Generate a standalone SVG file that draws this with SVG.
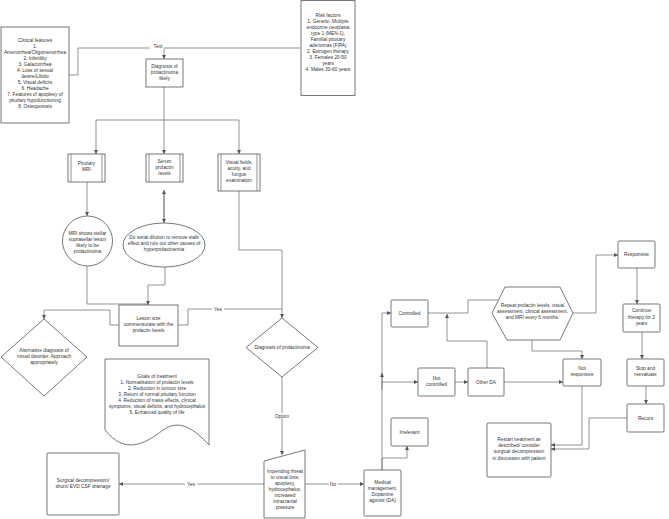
<svg xmlns="http://www.w3.org/2000/svg" width="669" height="519" viewBox="0 0 669 519">
<style>
.b{fill:#fff;stroke:#555;stroke-width:0.8}
.c{fill:none;stroke:#666;stroke-width:0.7}
text{font-family:"Liberation Sans",Arial,sans-serif;font-size:4.8px;fill:#333;text-anchor:middle}
</style>
<defs>
<marker id="a" markerWidth="5" markerHeight="5" refX="4" refY="2" orient="auto" markerUnits="userSpaceOnUse"><path d="M0,0 L4,2 L0,4 Z" fill="#555"/></marker>
</defs>
<rect width="669" height="519" fill="#fff"/>
<g id="connectors">
<path class="c" d="M69,75 H78 V48 H300"/>
<path class="c" d="M164,48 V59" marker-end="url(#a)"/>
<path class="c" d="M164,87 V154" marker-end="url(#a)"/>
<path class="c" d="M164,120 H96 V154" marker-end="url(#a)"/>
<path class="c" d="M164,120 H239 V154" marker-end="url(#a)"/>
<path class="c" d="M87,182 V216" marker-end="url(#a)"/>
<path class="c" d="M164,222 V190" marker-end="url(#a)"/>
<path class="c" d="M164,192 V223" marker-end="url(#a)"/>
<path class="c" d="M87,266 V304 H148"/>
<path class="c" d="M165,267 V285 H148 V305" marker-end="url(#a)"/>
<path class="c" d="M119,325 H110 V310 H44 V319" marker-end="url(#a)"/>
<path class="c" d="M178,325 H188 V309 H282"/>
<path class="c" d="M239,191 V250 H282 V318" marker-end="url(#a)"/>
<path class="c" d="M282,377 V455" marker-end="url(#a)"/>
<path class="c" d="M264,484 H119" marker-end="url(#a)"/>
<path class="c" d="M305,484 H364" marker-end="url(#a)"/>
<path class="c" d="M382,470 V458 H407 V446" marker-end="url(#a)"/>
<path class="c" d="M382,470 V313 H391" marker-end="url(#a)"/>
<path class="c" d="M382,390 V373" marker-end="url(#a)"/>
<path class="c" d="M382,382 H418" marker-end="url(#a)"/>
<path class="c" d="M455,382 H468" marker-end="url(#a)"/>
<path class="c" d="M487,368 V341 H447 V314" marker-end="url(#a)"/>
<path class="c" d="M428,313 H468 V300 H498"/>
<path class="c" d="M573,313 H596 V255 H618" marker-end="url(#a)"/>
<path class="c" d="M532,340 V351 H582 V359" marker-end="url(#a)"/>
<path class="c" d="M504,382 H563" marker-end="url(#a)"/>
<path class="c" d="M637,268 V304" marker-end="url(#a)"/>
<path class="c" d="M642,332 V359" marker-end="url(#a)"/>
<path class="c" d="M646,386 V404" marker-end="url(#a)"/>
<path class="c" d="M582,386 V445 H551" marker-end="url(#a)"/>
<path class="c" d="M627,418 H589 V449 H551" marker-end="url(#a)"/>
<rect x="150" y="44" width="14" height="5" fill="#fff"/>
<text x="158" y="47.5">Text</text>
<rect x="212" y="306" width="12" height="5" fill="#fff"/>
<text x="218" y="310.5">Yes</text>
<rect x="274" y="413" width="16" height="5" fill="#fff"/>
<text x="282" y="417.5">Option</text>
<rect x="185" y="481" width="12" height="5" fill="#fff"/>
<text x="191" y="485.5">Yes</text>
<rect x="329" y="481" width="9" height="5" fill="#fff"/>
<text x="333" y="485.5">No</text>
</g>
<g id="clinical">
<rect class="b" x="1" y="27" width="68" height="96"/>
<text x="35" y="42">Clinical features</text>
<text x="35" y="48">1.</text>
<text x="35" y="54">Amenorrhea/Oligomenorrhea</text>
<text x="35" y="60">2. Infertility</text>
<text x="35" y="66">3. Galactorrhea</text>
<text x="35" y="72">4. Loss of sexual</text>
<text x="35" y="78">desire/Libido</text>
<text x="35" y="84">5. Visual deficits</text>
<text x="35" y="90">6. Headache</text>
<text x="35" y="96">7. Features of apoplexy of</text>
<text x="35" y="102">pituitary hypofunctioning</text>
<text x="35" y="108">8. Osteoporosis</text>
</g>
<g id="risk">
<rect class="b" x="301" y="0.5" width="54" height="95"/>
<text x="328" y="17">Risk factors</text>
<text x="328" y="23">1. Genetic- Multiple</text>
<text x="328" y="29">endocrine neoplasia</text>
<text x="328" y="35">type 1 (MEN-1),</text>
<text x="328" y="41">Familial pituitary</text>
<text x="328" y="47">adenomas (FIPA)</text>
<text x="328" y="53">2. Estrogen therapy</text>
<text x="328" y="59">3. Females 20-50</text>
<text x="328" y="65">years</text>
<text x="328" y="71">4. Males 30-60 years</text>
</g>
<g id="likely">
<rect class="b" x="146" y="59" width="37" height="28"/>
<text x="164.5" y="68">Diagnosis of</text>
<text x="164.5" y="74">prolactinoma</text>
<text x="164.5" y="80">likely</text>
</g>
<g id="mri">
<rect class="b" x="68" y="154" width="37" height="28"/>
<path class="c" d="M71,154 V182 M102,154 V182"/>
<text x="86.5" y="165">Pituitary</text>
<text x="86.5" y="171">MRI</text>
</g>
<g id="serum">
<rect class="b" x="146" y="154" width="37" height="28"/>
<path class="c" d="M149,154 V182 M180,154 V182"/>
<text x="164.5" y="163">Serum</text>
<text x="164.5" y="169">prolactin</text>
<text x="164.5" y="175">levels</text>
</g>
<g id="visual">
<rect class="b" x="218" y="154" width="42" height="37"/>
<path class="c" d="M221,154 V191 M257,154 V191"/>
<text x="239" y="164">Visual fields,</text>
<text x="239" y="170">acuity, and</text>
<text x="239" y="176">fungus</text>
<text x="239" y="182">examination</text>
</g>
<g id="mriresult">
<circle class="b" cx="87.5" cy="241" r="25"/>
<text x="87.5" y="235">MRI shows stellar</text>
<text x="87.5" y="241">suprasellar lesion</text>
<text x="87.5" y="247">likely to be</text>
<text x="87.5" y="253">prolactinoma</text>
</g>
<g id="dilution">
<ellipse class="b" cx="164" cy="245" rx="41" ry="22"/>
<text x="164" y="239">Do serial dilution to remove stalk</text>
<text x="164" y="245">effect and rule out other causes of</text>
<text x="164" y="251">hyperprolactinemia</text>
</g>
<g id="lesion">
<rect class="b" x="119" y="305" width="59" height="41"/>
<text x="148.5" y="320">Lesion size</text>
<text x="148.5" y="326">commensurate with the</text>
<text x="148.5" y="332">prolactin levels</text>
</g>
<g id="alternative">
<path class="b" d="M44,319 L87,357 L44,396 L1,357 Z"/>
<text x="44" y="352">Alternative diagnosis of</text>
<text x="44" y="358">mixed disorder. Approach</text>
<text x="44" y="364">appropriately</text>
</g>
<g id="diagnosis">
<path class="b" d="M282,318 L318,347.5 L282,377 L246,347.5 Z"/>
<text x="282" y="349">Diagnosis of prolactinoma</text>
</g>
<g id="goals">
<path class="b" d="M105,359 H209 V445 C195,430 180,418 163,430 C145,444 125,455 105,430 Z"/>
<text x="157" y="378">Goals of treatment</text>
<text x="157" y="384">1. Normalisation of prolactin levels</text>
<text x="157" y="390">2. Reduction in tumour size</text>
<text x="157" y="396">3. Return of normal pituitary function</text>
<text x="157" y="402">4. Reduction of mass effects, clinical</text>
<text x="157" y="408">symptoms, visual deficits, and hydrocephalus</text>
<text x="157" y="414">5. Enhanced quality of life</text>
</g>
<g id="threat">
<path class="b" d="M264,461 L305,450 V518 H264 Z"/>
<text x="285" y="473">Impending threat</text>
<text x="285" y="479">to visual loss,</text>
<text x="285" y="485">apoplexy,</text>
<text x="285" y="491">hydrocephalus,</text>
<text x="285" y="497">increased</text>
<text x="285" y="503">intracranial</text>
<text x="285" y="509">pressure</text>
</g>
<g id="surgical">
<rect class="b" x="47" y="453" width="72" height="62" rx="1"/>
<text x="83" y="482">Surgical decompression/</text>
<text x="83" y="488">shunt/ EVD CSF drainage</text>
</g>
<g id="medical">
<rect class="b" x="364" y="470" width="37" height="46" rx="1"/>
<text x="382.5" y="484">Medical</text>
<text x="382.5" y="490">management,</text>
<text x="382.5" y="496">Dopamine</text>
<text x="382.5" y="502">agonist (DA)</text>
</g>
<g id="irrelevant">
<rect class="b" x="391" y="418" width="37" height="28" rx="1"/>
<text x="409.5" y="433.5">Irrelevant</text>
</g>
<g id="controlled">
<rect class="b" x="391" y="300" width="37" height="27" rx="1"/>
<text x="409.5" y="315">Controlled</text>
</g>
<g id="notcontrolled">
<rect class="b" x="418" y="368" width="37" height="28" rx="1"/>
<text x="436.5" y="380">Not</text>
<text x="436.5" y="386">controlled</text>
</g>
<g id="otherda">
<rect class="b" x="468" y="368" width="36" height="28" rx="1"/>
<text x="486" y="383.5">Other DA</text>
</g>
<g id="repeat">
<path class="b" d="M492,313 L505,287 H560 L573,313 L560,340 H507 Z"/>
<text x="532.5" y="307">Repeat prolactin levels, visual</text>
<text x="532.5" y="313">assessment, clinical assessment,</text>
<text x="532.5" y="319">and MRI every 6 months.</text>
</g>
<g id="responsive">
<rect class="b" x="618" y="241" width="37" height="27" rx="1"/>
<text x="636.5" y="256">Responsive</text>
</g>
<g id="continue">
<rect class="b" x="623" y="304" width="37" height="28" rx="1"/>
<text x="641.5" y="312">Continue</text>
<text x="641.5" y="318.5">therapy for 2</text>
<text x="641.5" y="325">years</text>
</g>
<g id="stop">
<rect class="b" x="627" y="359" width="37" height="27" rx="1"/>
<text x="645.5" y="370">Stop and</text>
<text x="645.5" y="376">reevaluate</text>
</g>
<g id="recurs">
<rect class="b" x="627" y="404" width="37" height="28" rx="1"/>
<text x="645.5" y="419.5">Recurs</text>
</g>
<g id="notresponsive">
<rect class="b" x="563" y="359" width="38" height="27" rx="1"/>
<text x="582" y="370">Not</text>
<text x="582" y="376">responsive</text>
</g>
<g id="restart">
<rect class="b" x="487" y="423" width="64" height="54" rx="1"/>
<text x="519" y="441">Restart treatment as</text>
<text x="519" y="447">described/ consider</text>
<text x="519" y="453">surgical decompression</text>
<text x="519" y="459.5">in discussion with patient</text>
</g>
</svg>
